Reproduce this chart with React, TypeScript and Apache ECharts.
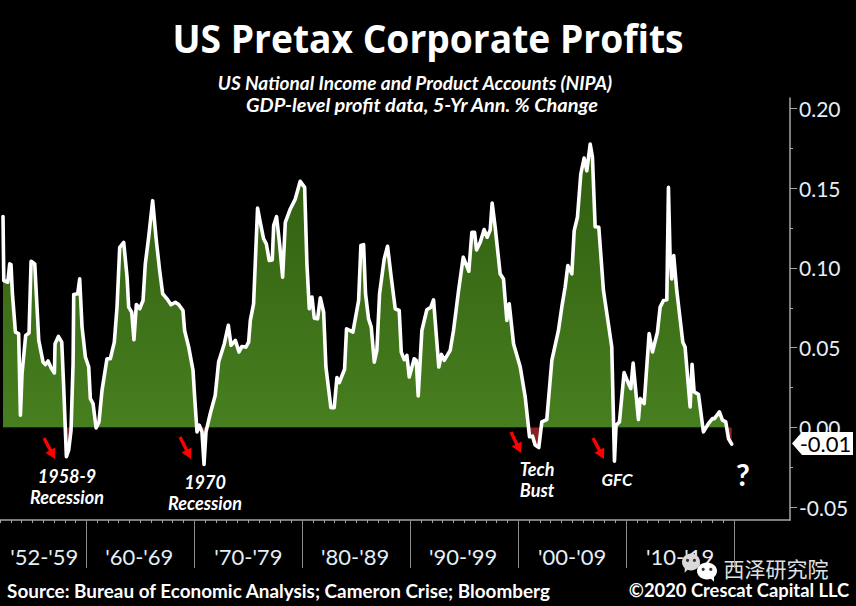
import React, { useEffect, useRef } from "react";
import * as echarts from "echarts";

const years = [
  1952.28,1952.35,1952.72,1952.90,1953.02,1953.15,1953.43,1953.73,1953.89,1954.04,1954.38,1954.69,1954.88,1955.22,1955.59,1955.99,1956.20,1956.45,1956.73,1957.04,1957.10,1957.41,1957.72,1957.90,1958.15,1958.36,1958.58,1958.77,1958.83,1959.20,1959.38,1959.60,1959.91,
  1960.22,1960.37,1960.62,1960.90,1961.17,1961.45,1961.91,1962.22,1962.59,1962.84,1963.09,1963.46,1963.77,1963.92,1964.20,1964.41,1964.63,1964.94,1965.25,1965.46,1965.77,1966.14,1966.48,1966.79,1967.07,1967.47,1967.84,1968.24,1968.55,1968.95,1969.10,1969.48,1969.88,
  1970.03,1970.25,1970.46,1970.71,1970.90,1971.08,1971.48,1971.94,1972.25,1972.78,1973.15,1973.40,1973.80,1974.14,1974.41,1974.78,1975.03,1975.19,1975.49,1975.86,1976.11,1976.42,1976.67,1976.94,1977.22,1977.35,1977.62,1977.90,1978.18,1978.43,1978.89,1979.35,1979.81,
  1980.22,1980.43,1980.65,1980.90,1981.11,1981.42,1981.67,1981.98,1982.19,1982.65,1982.96,1983.21,1983.43,1983.92,1984.10,1984.69,1985.22,1985.43,1985.68,1985.86,1986.14,1986.39,1986.67,1986.91,1987.16,1987.59,1987.90,1988.24,1988.61,1988.98,1989.17,1989.44,1989.69,1989.91,
  1990.37,1990.56,1990.74,1991.08,1991.54,1991.91,1992.16,1992.65,1992.90,1993.15,1993.70,1994.01,1994.48,1994.91,1995.43,1995.71,1995.96,1996.14,1996.48,1996.85,1997.13,1997.41,1997.59,1997.87,1998.33,1998.64,1998.95,1999.17,1999.57,
  2000.19,2000.65,2001.05,2001.33,2001.57,2001.91,2002.19,2002.65,2003.12,2003.73,2004.04,2004.35,2004.60,2004.97,2005.19,2005.49,2005.80,2006.11,2006.36,2006.67,2006.88,2007.13,2007.47,2007.90,2008.67,2008.92,2009.07,2009.38,2009.81,
  2010.22,2010.43,2010.65,2011.14,2011.30,2011.67,2012.13,2012.44,2012.90,2013.15,2013.46,2013.77,2013.92,2014.07,2014.23,2014.41,2014.69,2015.25,2015.46,2015.93,2016.11,2016.30,2016.70,2017.16,2017.62,2017.99,2018.18,2018.64,2018.92,2019.23,2019.48,2019.78,
];

const profitChange = [
  .1321,.0921,.0910,.1025,.1021,.0838,.0598,.0588,.0077,.0338,.0577,.0592,.1042,.1025,.0546,.0410,.0394,.0417,.0375,.0342,.0525,.0571,.0535,.0254,-.0183,-.0142,-.0017,.0400,.0833,.0838,.0931,.0629,.0442,
  .0379,.0181,.0150,-.0002,.0035,.0233,.0431,.0431,.0535,.0754,.1129,.1160,.0942,.0754,.0723,.0550,.0771,.0744,.0796,.1025,.1192,.1421,.1171,.0983,.0838,.0806,.0769,.0785,.0771,.0733,.0608,.0504,.0358,
  .0192,-.0027,.0015,-.0027,-.0231,-.0027,.0088,.0202,.0410,.0525,.0640,.0515,.0546,.0473,.0508,.0504,.0535,.0671,.0775,.1375,.1285,.1181,.1150,.1046,.1050,.1265,.1321,.1150,.0942,.1285,.1369,.1431,.1542,
  .1504,.1025,.0744,.0817,.0685,.0681,.0813,.0723,.0379,.0125,.0125,.0313,.0281,.0365,.0619,.0598,.0796,.1140,.1146,.0838,.0681,.0629,.0410,.0483,.0838,.1056,.1135,.0942,.0744,.0733,.0473,.0425,.0452,.0317,
  .0431,.0421,.0198,.0608,.0738,.0754,.0800,.0379,.0458,.0421,.0483,.0608,.0858,.1067,.0979,.1223,.1223,.1113,.1160,.1240,.1192,.1238,.1406,.1254,.0963,.0931,.0671,.0775,.0525,
  .0379,.0192,-.0058,-.0054,-.0110,-.0125,.0035,.0050,.0421,.0608,.0754,.0879,.1015,.0963,.1233,.1317,.1588,.1688,.1608,.1775,.1692,.1258,.1254,.0858,.0504,-.0210,.0015,.0035,.0344,
  .0275,.0244,.0404,.0050,.0181,.0150,.0588,.0473,.0598,.0754,.0796,.0800,.1504,.1077,.0931,.1077,.0858,.0535,.0504,.0129,.0396,.0223,.0208,-.0027,.0025,.0056,.0056,.0098,.0046,.0035,-.0069,-.0104,
];

const decadeTicks = [1960, 1970, 1980, 1990, 2000, 2010, 2020];
const decadeLabels = ["'52-'59", "'60-'69", "'70-'79", "'80-'89", "'90-'99", "'00-'09", "'10-'19"];
const decadeLabelYears = [1956.1, 1964.9, 1975, 1984.9, 1994.9, 2005, 2015];
const yearTicks = [
  1952,1953,1954,1955,1956,1957,1958,1959,1960,1961,1962,1963,1964,1965,1966,1967,1968,1969,
  1970,1971,1972,1973,1974,1975,1976,1977,1978,1979,1980,1981,1982,1983,1984,1985,1986,1987,
  1988,1989,1990,1991,1992,1993,1994,1995,1996,1997,1998,1999,2000,2001,2002,2003,2004,2005,
  2006,2007,2008,2009,2010,2011,2012,2013,2014,2015,2016,2017,2018,2019,2020,
];
const yMajorTicks = [-0.05, 0, 0.05, 0.1, 0.15, 0.2];
const yMinorTicks = [-0.025, 0.025, 0.075, 0.125, 0.175];
const lastValueLabel = "-0.01";
const lastValue = -0.01;

const TITLE = "US Pretax Corporate Profits";
const SUBTITLE_1 = "US National Income and Product Accounts (NIPA)";
const SUBTITLE_2 = "GDP-level profit data, 5-Yr Ann. % Change";
const SOURCE = "Source: Bureau of Economic Analysis; Cameron Crise; Bloomberg";
const COPYRIGHT = "©2020 Crescat Capital LLC";
const WATERMARK = "西泽研究院";

const X_MIN = 1952;
const X_MAX = 2025.18;
const Y_MIN = -0.0579;
const Y_MAX = 0.2064;
const AXIS_GRAY = "#a6a6a6";
const LABEL_COLOR = "#e6eef7";
const FONT = "Lato, 'Open Sans', sans-serif";

function text(x: number, y: number, t: string, font: string, extra: any = {}) {
  return {
    type: "text",
    x,
    y,
    silent: true,
    ...extra,
    style: {
      text: t,
      font,
      fill: "#ffffff",
      align: "center",
      verticalAlign: "middle",
      textAlign: "center",
      textVerticalAlign: "middle",
      ...(extra.style || {}),
    },
  };
}

function arrow(x1: number, y1: number, x2: number, y2: number) {
  const dx = x2 - x1;
  const dy = y2 - y1;
  const len = Math.hypot(dx, dy);
  const ux = dx / len;
  const uy = dy / len;
  const px = -uy;
  const py = ux;
  const head = 10;
  const bx = x2 - ux * head;
  const by = y2 - uy * head;
  const pts = [
    [x1 + px * 1.7, y1 + py * 1.7],
    [bx + px * 1.7, by + py * 1.7],
    [bx + px * 5.5, by + py * 5.5],
    [x2, y2],
    [bx - px * 5.5, by - py * 5.5],
    [bx - px * 1.7, by - py * 1.7],
    [x1 - px * 1.7, y1 - py * 1.7],
  ];
  return { type: "polygon", silent: true, shape: { points: pts }, style: { fill: "#ff0000" } };
}

function bubble(cx: number, cy: number, rx: number, ry: number, fill: string, z: number, tailDir: number) {
  return [
    { type: "ellipse", z, silent: true, shape: { cx, cy, rx, ry }, style: { fill } },
    {
      type: "polygon",
      z,
      silent: true,
      shape: {
        points: [
          [cx + tailDir * rx * 0.2, cy + ry * 0.7],
          [cx + tailDir * rx * 0.7, cy + ry * 0.5],
          [cx + tailDir * rx * 0.7, cy + ry * 1.25],
        ],
      },
      style: { fill },
    },
    { type: "circle", z, silent: true, shape: { cx: cx - rx * 0.38, cy: cy - ry * 0.2, r: 1.6 }, style: { fill: "#333333" } },
    { type: "circle", z, silent: true, shape: { cx: cx + rx * 0.38, cy: cy - ry * 0.2, r: 1.6 }, style: { fill: "#333333" } },
  ];
}

export default function App() {
  const ref = useRef<HTMLDivElement>(null);

  useEffect(() => {
    const chart = echarts.init(ref.current as HTMLDivElement, undefined, { renderer: "svg" });
    const fill = new echarts.graphic.LinearGradient(
      0, 98, 0, 520,
      [
        { offset: 0, color: "#2c560d" },
        { offset: 0.78, color: "#477f1f" },
        { offset: 0.78, color: "#8a2020" },
        { offset: 1, color: "#8a2020" },
      ],
      true,
    );
    chart.setOption({
      animation: false,
      backgroundColor: "#000000",
      grid: { left: -0.4, right: 66, top: 98, bottom: 86, containLabel: false },
      xAxis: [
        {
          type: "value",
          min: X_MIN,
          max: X_MAX,
          position: "bottom",
          splitLine: { show: false },
          axisLine: { show: true, onZero: false, lineStyle: { color: AXIS_GRAY, width: 1.5 } },
          axisTick: { show: true, length: 3, customValues: yearTicks, lineStyle: { color: AXIS_GRAY, width: 1 } },
          axisLabel: { show: false },
        },
        {
          type: "value",
          min: X_MIN,
          max: X_MAX,
          position: "bottom",
          splitLine: { show: false },
          axisLine: { show: false, onZero: false },
          axisTick: { show: true, length: 48, customValues: decadeTicks, lineStyle: { color: "#8c8c8c", width: 1 } },
          axisLabel: {
            show: true,
            customValues: decadeLabelYears,
            margin: 25,
            hideOverlap: false,
            color: LABEL_COLOR,
            fontFamily: FONT,
            fontSize: 22,
            formatter: (v: number) => decadeLabels[decadeLabelYears.indexOf(v)] ?? "",
          },
        },
      ],
      yAxis: [
        {
          type: "value",
          min: Y_MIN,
          max: Y_MAX,
          position: "right",
          splitLine: { show: false },
          axisLine: { show: true, onZero: false, lineStyle: { color: AXIS_GRAY, width: 1.5 } },
          axisTick: { show: true, length: 7, customValues: yMajorTicks, lineStyle: { color: AXIS_GRAY, width: 1 } },
          axisLabel: {
            show: true,
            customValues: yMajorTicks,
            margin: 9,
            color: LABEL_COLOR,
            fontFamily: FONT,
            fontSize: 21,
            padding: [4, 0, 0, 0],
            formatter: (v: number) => v.toFixed(2),
          },
        },
        {
          type: "value",
          min: Y_MIN,
          max: Y_MAX,
          position: "right",
          splitLine: { show: false },
          axisLine: { show: false, onZero: false },
          axisTick: { show: true, length: 3, customValues: yMinorTicks, lineStyle: { color: AXIS_GRAY, width: 1 } },
          axisLabel: { show: false },
        },
      ],
      series: [
        {
          type: "line",
          name: "5-Yr Ann. % Change",
          data: years.map((y, i) => [y, profitChange[i]]),
          showSymbol: false,
          symbol: "none",
          smooth: false,
          lineStyle: { color: "#ffffff", width: 3.6, join: "round", cap: "round" },
          areaStyle: { color: fill, origin: 0, opacity: 1 },
          markPoint: {
            silent: true,
            symbol: "path://M0 11.5 L10 0 L61 0 L61 23 L10 23 Z",
            symbolSize: [61, 23],
            symbolOffset: [32.5, 0],
            itemStyle: { color: "#ffffff" },
            label: {
              show: true,
              position: "inside",
              offset: [3, 0],
              color: "#000000",
              fontFamily: FONT,
              fontSize: 22,
              formatter: lastValueLabel,
            },
            data: [{ coord: [X_MAX, lastValue] }],
          },
        },
      ],
      graphic: [
        text(428, 37, TITLE, "bold 40px 'Open Sans', sans-serif", { scaleX: 0.93 }),
        text(415, 82, SUBTITLE_1, "italic bold 19px Lato, sans-serif"),
        text(422, 105, SUBTITLE_2, "italic bold 19px Lato, sans-serif", { scaleX: 1.05 }),
        text(67, 476, "1958-9", "italic bold 18px Lato, sans-serif"),
        text(67, 497, "Recession", "italic bold 18px Lato, sans-serif"),
        text(205, 482, "1970", "italic bold 18px Lato, sans-serif"),
        text(205, 503, "Recession", "italic bold 18px Lato, sans-serif"),
        text(537, 469, "Tech", "italic bold 18px Lato, sans-serif"),
        text(537, 490, "Bust", "italic bold 18px Lato, sans-serif"),
        text(617, 479, "GFC", "italic bold 17px Lato, sans-serif"),
        text(743, 474, "?", "bold 30px Lato, sans-serif"),
        arrow(44, 438, 55, 459),
        arrow(180, 437, 191, 459),
        arrow(511, 432, 521, 453),
        arrow(593, 438, 604, 459),
        text(278.5, 591, SOURCE, "bold 18px Lato, sans-serif", { scaleX: 1.05 }),
        text(739, 590, COPYRIGHT, "bold 18px Lato, sans-serif", { scaleX: 1.02 }),
        ...bubble(691, 562, 9, 8.5, "#d9d9d9", 10, -1),
        ...bubble(707, 571, 10, 8.5, "#ffffff", 11, 1),
        text(776, 568, WATERMARK, "21px 'Noto Sans CJK SC', sans-serif", { style: { fill: "#e0e0e0" } }),
      ],
    });
    return () => chart.dispose();
  }, []);

  return <div ref={ref} style={{ width: 856, height: 606, position: "fixed", left: 0, top: 0 }} />;
}
